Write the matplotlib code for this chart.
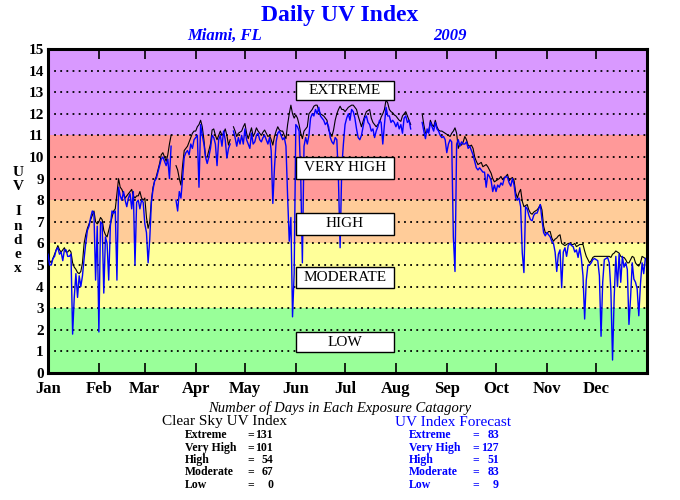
import numpy as np
import matplotlib
matplotlib.use("Agg")
import matplotlib.pyplot as plt
from matplotlib.patches import Rectangle

# daily UV index, Miami FL 2009 (one value per day)
clear_sky = [
    # Jan
    5.4, 5.2, 5.1, 5.3, 5.5, 5.7, 5.9, 5.7, 5.6, 5.7, 5.8, 5.6, 5.6, 5.7, 5.6, 5.1,
    4.9, 4.8, 4.65, 4.6, 4.7, 5.1, 6.0, 6.4, 6.7, 6.9, 7.1, 7.3, 7.5, 7.0, 6.9,
    # Feb
    7.0, 7.2, 7.1, 6.6, 6.4, 6.3, 6.6, 6.9, 7.2, 7.5, 7.6, 8.3, 9.0, 8.6, 8.5, 8.3,
    8.1, 8.2, 8.3, 8.4, 8.5, 8.2, 8.1, 8.2, 8.2, 8.4, 8.1, 8.0,
    # Mar
    8.1, 7.2, 6.7, 7.0, 8.0, 8.6, 8.9, 9.1, 9.4, 9.7, 10.1, 10.2, 10.0, 9.8, 10.1, 10.6,
    11.0, np.nan, np.nan, 9.6, 9.4, 9.0, 8.7, 9.6, 10.3, 10.4, 10.5, 10.7, 10.9, 11.1, 11.2,
    # Apr
    11.2, 11.4, 11.5, 11.7, 11.4, 10.8, 10.0, 10.0, 10.3, 10.6, 11.25, 11.3, 11.0, 10.8, 11.0,
    11.2, 11.0, 11.1, 11.3, 11.0, 10.55, 10.8, np.nan, 11.4, 11.2, 10.95, 11.1, 11.15, 11.2, 11.4,
    # May
    11.55, 11.1, 10.85, 11.1, 11.35, 10.95, 11.1, 11.35, 11.2, 11.1, 11.0, 11.15, 11.25, 11.1,
    10.95, 11.0, 10.8, 10.55, 10.95, 11.2, 11.4, 11.25, 11.2, 11.2, 11.0, 10.85, 11.5, 12.0,
    12.4, 12.0, 11.8,
    # Jun
    11.95, 11.8, 11.5, 11.1, 10.85, 11.2, 11.3, 11.4, 12.0, 12.1, 12.2, 12.35, 12.4, 12.4, 12.15,
    12.0, 11.95, 11.9, 11.8, 11.7, 11.25, 11.1, 10.95, 11.25, 11.7, 12.0, 12.2, 12.35, 12.2, 12.2,
    # Jul
    12.1, 12.2, 12.3, 12.35, 12.4, 12.4, 12.3, 12.2, 11.9, 11.65, 11.4, 11.65, 11.9, 12.1, 12.15,
    12.2, 11.8, 11.6, 11.5, 11.4, 11.5, 11.6, 11.85, 12.0, 12.2, 12.65, 12.5, 12.2, 12.1, 12.05, 11.95,
    # Aug
    11.9, 11.8, 11.7, 11.65, 11.9, 12.0, 12.1, 11.9, 11.7, 11.5,
    np.nan, np.nan, np.nan, np.nan, np.nan, np.nan,
    12.0, 11.5, 11.1, 11.15, 11.2, 11.7, 11.5, 11.4, 11.7, 11.4, 11.25, 11.2, 11.2, 11.15, 11.1,
    # Sep
    11.05, 11.0, 10.95, 11.1, 11.2, 11.35, 11.1, 10.4, 10.6, 10.55, 10.7, 10.95, 10.8, 10.55, 10.5,
    10.55, 10.4, 10.0, 9.8, 9.65, 9.7, 9.75, 9.55, 9.6, 9.65, 9.55, 9.4, 9.25, 9.0, 8.85,
    # Oct
    8.9, 8.95, 9.0, 9.1, 8.95, 9.05, 9.1, 9.2, 8.9, 9.0, 9.05, 8.9, 8.35, 8.1, 8.35, 8.5,
    7.95, 7.7, 7.75, 7.8, 7.55, 7.4, 7.35, 7.45, 7.5, 7.55, 7.65, 7.8, 7.55, 6.8, 6.5,
    # Nov
    6.45, 6.55, 6.55, 6.25, 6.1, 6.2, 6.25, 6.35, 6.4, 6.0, 5.95, 5.9, 5.95, 6.0, 6.0,
    5.95, 5.95, 6.0, 5.85, 5.9, 5.95, 5.95, 5.95, 5.65, 5.4, 5.25, 5.1, 5.2, 5.35, 5.4,
    # Dec
    5.4, 5.4, 5.4, 5.4, 5.4, 5.4, 5.4, 5.4, 5.4, 5.35, 5.5, 5.55, 5.65, 5.6, 5.55, 5.4,
    5.35, 5.35, 5.25, 5.1, 5.1, 5.25, 5.4, 5.35, 5.1, 5.0, 4.95, 5.1, 5.4, 5.35, 5.3,
]

forecast = [
    # Jan
    5.5, 5.0, 5.0, 5.3, 5.4, 5.7, 5.8, 5.5, 5.6, 5.2, 5.7, 5.7, 5.4, 5.4, 5.5, 1.8,
    3.5, 4.6, 3.5, 4.5, 4.0, 4.5, 5.3, 6.0, 6.6, 6.8, 7.2, 7.5, 7.4, 4.3, 6.8,
    # Feb
    1.9, 7.0, 6.9, 3.7, 6.3, 6.0, 4.3, 6.8, 7.5, 7.4, 7.5, 4.3, 8.6, 8.2, 8.0, 8.4,
    8.0, 7.7, 8.1, 8.3, 7.6, 8.4, 5.0, 7.9, 8.0, 7.6, 8.0, 7.9,
    # Mar
    6.9, 6.5, 5.1, 6.2, 7.9, 8.5, 8.9, 9.0, 9.3, 9.6, 9.9, 10.0, 9.8, 9.6, 9.9, 9.0,
    10.5, np.nan, np.nan, 8.0, 7.5, 8.4, 8.1, 9.0, 10.0, 10.2, 10.3, 10.1, 10.6, 10.4, 10.8,
    # Apr
    10.9, 11.0, 8.6, 11.5, 11.0, 10.6, 10.0, 9.7, 10.0, 10.4, 11.0, 10.9, 10.6, 9.6, 10.8,
    11.0, 10.5, 11.2, 10.8, 9.95, 10.4, 10.6, np.nan, 11.2, 10.9, 10.5, 10.9, 10.6, 11.0, 10.6,
    # May
    11.3, 10.8, 10.6, 10.4, 11.1, 10.6, 10.7, 11.0, 11.1, 10.8, 10.7, 10.9, 11.0, 10.8, 10.6,
    10.9, 10.3, 7.85, 9.5, 10.7, 11.1, 11.2, 11.0, 10.8, 10.9, 10.5, 8.2, 6.1, 7.2, 2.6, 4.6,
    # Jun
    11.5, 11.4, 11.2, 9.1, 5.1, 10.5, 10.9, 10.6, 11.0, 11.8, 12.0, 11.9, 12.2, 12.0, 12.3,
    11.9, 11.8, 11.7, 11.5, 11.6, 11.4, 10.9, 10.7, 10.6, 10.9, 10.8, 8.9, 5.8, 9.5, 10.6,
    # Jul
    11.5, 11.8, 12.0, 11.7, 12.2, 12.1, 11.8, 11.3, 10.9, 10.8, 11.0, 11.4, 11.8, 11.9, 11.6,
    11.5, 11.2, 11.3, 10.9, 11.2, 11.4, 11.7, 11.6, 10.6, 11.5, 12.3, 11.9, 11.9, 11.6, 11.7, 11.6,
    # Aug
    11.4, 11.6, 11.3, 11.5, 11.1, 11.8, 11.9, 11.6, 11.7, 11.3,
    np.nan, np.nan, np.nan, np.nan, np.nan, np.nan,
    11.6, 11.2, 10.85, 11.3, 11.1, 11.6, 11.4, 11.2, 11.6, 11.3, 11.2, 11.0, 10.9, 10.95, 10.8,
    # Sep
    10.2, 10.6, 10.8, 10.7, 6.3, 4.7, 10.6, 10.8, 10.5, 10.7, 10.6, 10.6, 10.7, 10.4, 10.5,
    10.3, 10.1, 9.8, 9.5, 9.4, 9.5, 9.4, 9.3, 9.3, 8.6, 9.2, 9.1, 8.9, 8.4, 8.7,
    # Oct
    8.4, 8.7, 8.6, 8.8, 8.7, 9.0, 9.1, 9.05, 8.8, 8.65, 9.0, 8.7, 8.1, 8.0, 8.1, 7.7,
    5.55, 4.65, 7.7, 7.6, 7.3, 7.1, 7.05, 7.3, 7.4, 7.4, 7.6, 7.8, 7.1, 6.5, 6.35,
    # Nov
    6.5, 6.4, 6.3, 6.1, 6.0, 5.6, 4.7, 5.5, 5.7, 3.95, 5.6, 5.8, 5.4, 5.9, 6.0,
    5.9, 5.85, 5.6, 5.7, 5.35, 5.8, 5.3, 4.5, 2.5, 4.3, 5.0, 5.0, 5.1, 5.25, 5.3,
    # Dec
    5.25, 5.2, 4.5, 1.7, 4.2, 5.25, 5.3, 5.35, 5.1, 3.8, 0.6, 3.5, 5.4, 4.0, 5.5, 4.2,
    5.4, 4.9, 5.1, 4.8, 2.25, 3.5, 5.1, 4.35, 4.2, 3.9, 2.65, 4.1, 5.1, 4.6, 5.3,
]

months = ["Jan", "Feb", "Mar", "Apr", "May", "Jun",
          "Jul", "Aug", "Sep", "Oct", "Nov", "Dec"]
month_days = [31, 28, 31, 30, 31, 30, 31, 31, 30, 31, 30, 31]

# exposure categories: name, lower, upper, colour
cat_names = ["LOW", "MODERATE", "HIGH", "VERY HIGH", "EXTREME"]
cat_lower = [0, 3, 6, 8, 11]
cat_upper = [3, 6, 8, 11, 15]
cat_colors = ["#99FF99", "#FFFF99", "#FFCC99", "#FF9999", "#D999FF"]

# number of days in each category
count_labels = ["Extreme", "Very High", "High", "Moderate", "Low"]
clear_counts = [131, 101, 54, 67, 0]
forecast_counts = [83, 127, 51, 83, 9]

serif = "Liberation Serif"
blue = "#0000FF"

days = np.arange(len(clear_sky))
month_start = np.concatenate([[0], np.cumsum(month_days)[:-1]])

fig = plt.figure(figsize=(6.8, 5.0), dpi=100)
ax = fig.add_axes([48 / 680, 1 - 373 / 500, 599 / 680, 324 / 500])

for lo, hi, c in zip(cat_lower, cat_upper, cat_colors):
    ax.axhspan(lo, hi, color=c, lw=0, zorder=0)

for yv in range(1, 15):
    ax.axhline(yv, color="black", lw=1.3, ls=(0, (1, 2.4)), zorder=1)

ax.plot(days, clear_sky, color="black", lw=0.8, zorder=3)
ax.plot(days, forecast, color=blue, lw=1.0, zorder=4)

# category label boxes
box_y = [0.95, 3.95, 6.4, 9.0, 12.62]
box_h = [0.95, 0.95, 1.0, 1.0, 0.92]
for name, y0, h in zip(cat_names, box_y, box_h):
    ax.add_patch(Rectangle((151, y0), 60, h, facecolor="white",
                           edgecolor="black", lw=1.0, zorder=5))
    ax.text(181, y0 + h / 2, name, ha="center", va="center",
            family=serif, fontsize=11, zorder=6)

ax.set_xlim(0, 365)
ax.set_ylim(0, 15)
ax.set_xticks(month_start)
ax.set_xticklabels(months, family=serif, fontweight="bold", fontsize=12)
ax.set_yticks(range(16))
ax.set_yticklabels([str(v) for v in range(16)], family=serif,
                   fontweight="bold", fontsize=11)
ax.tick_params(axis="x", direction="in", length=7, width=1.2,
               top=True, pad=6)
ax.tick_params(axis="y", length=0, pad=3)
for s in ax.spines.values():
    s.set_linewidth(2.2)

# titles
fig.text(340 / 680, 1 - 16 / 500, "Daily UV Index", ha="center", va="center",
         family=serif, fontweight="bold", fontsize=17, color=blue)
fig.text(225 / 680, 1 - 36 / 500, "Miami, FL", ha="center", va="center",
         family=serif, fontweight="bold", style="italic", fontsize=12, color=blue)
fig.text(450 / 680, 1 - 36 / 500, "2009", ha="center", va="center",
         family=serif, fontweight="bold", style="italic", fontsize=12, color=blue)

# stacked y label
for ch, yp in zip("UVIndex", [172, 186, 212, 227, 241, 255, 269]):
    fig.text(18 / 680, 1 - yp / 500, ch, ha="center", va="center",
             family=serif, fontweight="bold", fontsize=11)

# category counts below the chart
fig.text(340 / 680, 1 - 408 / 500, "Number of Days in Each Exposure Catagory",
         ha="center", va="center", family=serif, style="italic", fontsize=10.5)
fig.text(225 / 680, 1 - 422 / 500, "Clear Sky UV Index", ha="center",
         va="center", family=serif, fontsize=11)
fig.text(453 / 680, 1 - 422 / 500, "UV Index Forecast", ha="center",
         va="center", family=serif, fontsize=11, color=blue)

row_y = [435, 448, 460, 472, 485]
for lab, c1, c2, yp in zip(count_labels, clear_counts, forecast_counts, row_y):
    fy = 1 - yp / 500
    for x0, xe, xn, val, col in [(185, 247, 273, c1, "black"),
                                  (409, 472, 499, c2, blue)]:
        fig.text(x0 / 680, fy, lab, ha="left", va="center", family=serif,
                 fontweight="bold", fontsize=8.5, color=col)
        fig.text(xe / 680, fy, "=", ha="left", va="center", family=serif,
                 fontweight="bold", fontsize=8.5, color=col)
        fig.text(xn / 680, fy, str(val), ha="right", va="center", family=serif,
                 fontweight="bold", fontsize=8.5, color=col)

fig.savefig("out.png", dpi=100)
